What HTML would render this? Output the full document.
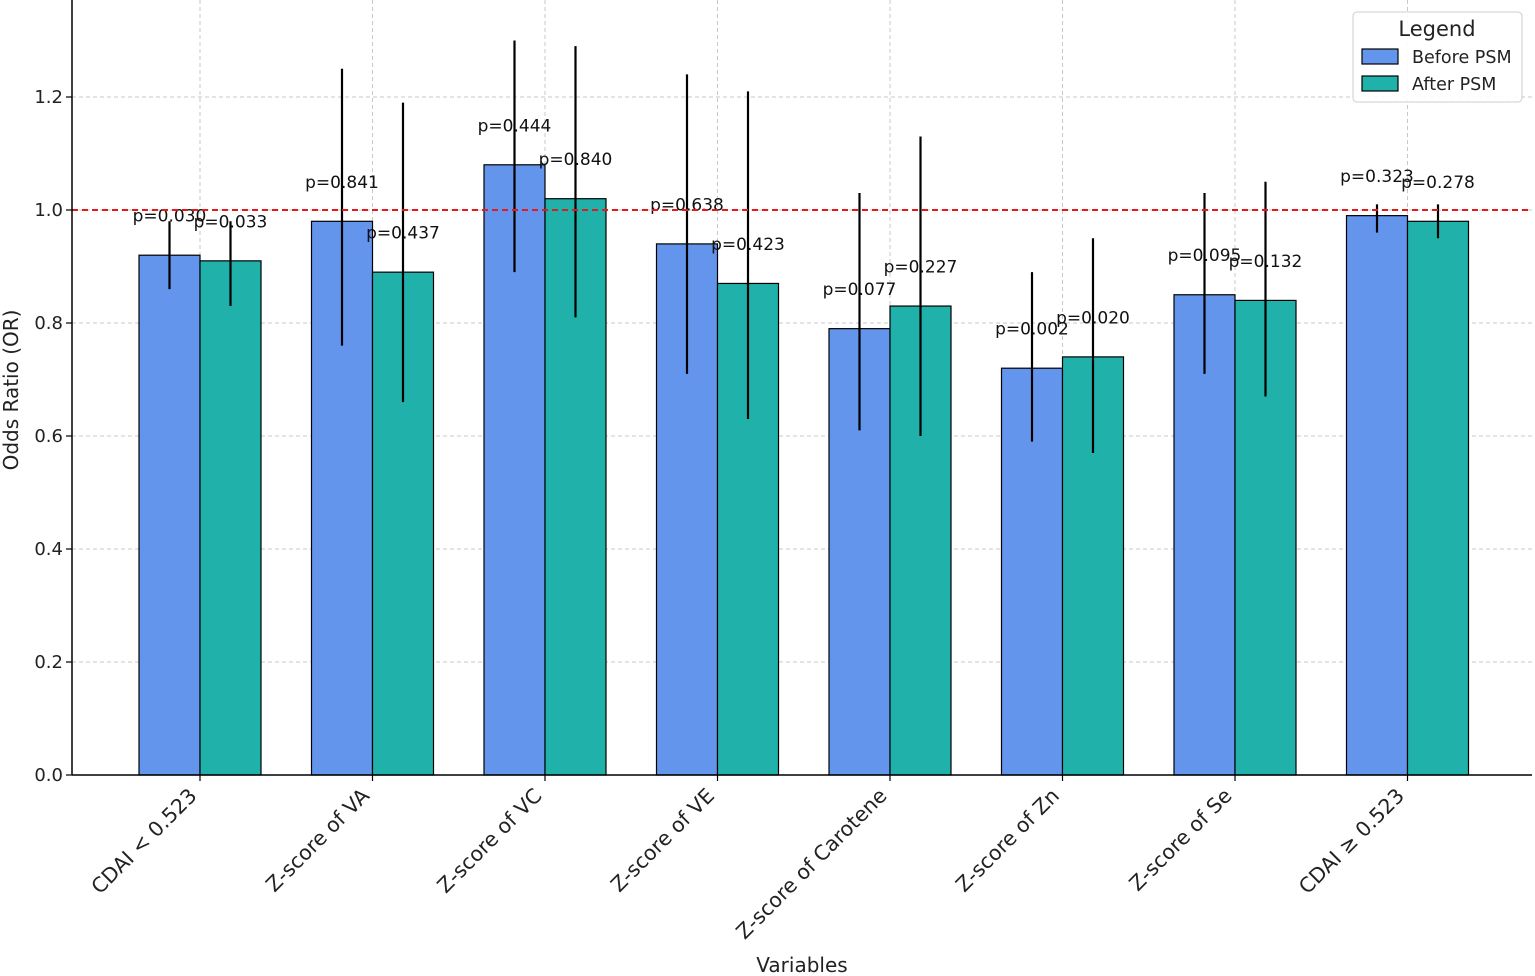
<!DOCTYPE html>
<html><head><meta charset="utf-8"><style>
html,body{margin:0;padding:0;background:#fff;}
svg{display:block;font-family:"DejaVu Sans","Liberation Sans",sans-serif;}
</style></head><body>
<svg id="chart" width="1535" height="976" viewBox="0 0 1535 976"></svg>
<script>
const categories=["CDAI < 0.523","Z-score of VA","Z-score of VC","Z-score of VE","Z-score of Carotene","Z-score of Zn","Z-score of Se","CDAI \u2265 0.523"];
const beforeOR=[0.92,0.98,1.08,0.94,0.79,0.72,0.85,0.99];
const beforeLow=[0.86,0.76,0.89,0.71,0.61,0.59,0.71,0.96];
const beforeHigh=[0.98,1.25,1.30,1.24,1.03,0.89,1.03,1.01];
const afterOR=[0.91,0.89,1.02,0.87,0.83,0.74,0.84,0.98];
const afterLow=[0.83,0.66,0.81,0.63,0.60,0.57,0.67,0.95];
const afterHigh=[0.98,1.19,1.29,1.21,1.13,0.95,1.05,1.01];
const beforeP=["p=0.030","p=0.841","p=0.444","p=0.638","p=0.077","p=0.002","p=0.095","p=0.323"];
const afterP=["p=0.033","p=0.437","p=0.840","p=0.423","p=0.227","p=0.020","p=0.132","p=0.278"];
const yTicks=[0,0.2,0.4,0.6,0.8,1.0,1.2];

const svg=document.getElementById('chart');
const NS="http://www.w3.org/2000/svg";
const L=72,R=1532,T=0,B=775;
const y=v=>B-v*565;
const xc=i=>200+i*172.5;
const bw=61;
function mk(tag,attrs,parent){const e=document.createElementNS(NS,tag);for(const k in attrs)e.setAttribute(k,attrs[k]);(parent||svg).appendChild(e);return e;}

yTicks.forEach((t,i)=>{
  const g=mk('line',{x1:L,x2:R,y1:y(t),y2:y(t),stroke:'#c8c8c8','stroke-dasharray':'4,3','stroke-width':1});
  
  
  const tk=mk('line',{x1:L-6,x2:L,y1:y(t),y2:y(t),stroke:'#000','stroke-width':1.2});
  
  
  const lb=mk('text',{x:L-9,y:y(t)+6,'text-anchor':'end','font-size':18,fill:'#222'});
  lb.textContent=t.toFixed(1);
  
  
});
categories.forEach((c,i)=>{
  const g=mk('line',{x1:xc(i),x2:xc(i),y1:T,y2:B,stroke:'#c8c8c8','stroke-dasharray':'4,3','stroke-width':1});
  
  
});

function drawSeries(vals,lo,hi,ps,color,off,name){
  vals.forEach((v,i)=>{
    const x0=xc(i)+off;
    const r=mk('rect',{x:x0,y:y(v),width:bw,height:B-y(v),fill:color,stroke:'#000','stroke-width':1.2});
    
    
    const cx=x0+bw/2;
    const e=mk('line',{x1:cx,x2:cx,y1:y(hi[i]),y2:y(lo[i]),stroke:'#000','stroke-width':2.2});
    
    
    const t=mk('text',{x:cx,y:y(v+0.07)+6,'text-anchor':'middle','font-size':17,fill:'#111'});
    t.textContent=ps[i];
    
    
  });
}
drawSeries(beforeOR,beforeLow,beforeHigh,beforeP,'#6495ED',-bw,'before-psm');
drawSeries(afterOR,afterLow,afterHigh,afterP,'#20B2AA',0,'after-psm');

const rl=mk('line',{x1:L,x2:R,y1:y(1),y2:y(1),stroke:'#e31a1c','stroke-dasharray':'6,4','stroke-width':2});



const ax=mk('line',{x1:L,x2:L,y1:T,y2:B,stroke:'#000','stroke-width':1.5});


const ax2=mk('line',{x1:L,x2:R,y1:B,y2:B,stroke:'#000','stroke-width':1.5});



categories.forEach((c,i)=>{
  const tk=mk('line',{x1:xc(i),x2:xc(i),y1:B,y2:B+6,stroke:'#000','stroke-width':1.2});
  
  
  const t=mk('text',{x:xc(i)-2,y:B+22,'text-anchor':'end','font-size':20.5,fill:'#222',transform:`rotate(-45 ${xc(i)-2} ${B+22})`});
  t.textContent=c;
  
  
});

const xt=mk('text',{x:802,y:972,'text-anchor':'middle','font-size':20,fill:'#222'});
xt.textContent='Variables';


const yt=mk('text',{x:18,y:390,'text-anchor':'middle','font-size':20,fill:'#222',transform:'rotate(-90 18 390)'});
yt.textContent='Odds Ratio (OR)';



const lg=mk('g',{});


mk('rect',{x:1353,y:12,width:169,height:90,rx:4,fill:'#fff','fill-opacity':0.9,stroke:'#ccc'},lg);
const lt=mk('text',{x:1437,y:36,'text-anchor':'middle','font-size':21,fill:'#222'},lg);
lt.textContent='Legend';


[['Before PSM','#6495ED',57],['After PSM','#20B2AA',84]].forEach(([n,c,yy])=>{
  const g=mk('g',{},lg);
  
  
  mk('rect',{x:1362,y:yy-8,width:36,height:15,fill:c,stroke:'#000','stroke-width':1.2},g);
  const t=mk('text',{x:1412,y:yy+6,'font-size':17.5,fill:'#222'},g);
  t.textContent=n;
});
</script>
</body></html>
